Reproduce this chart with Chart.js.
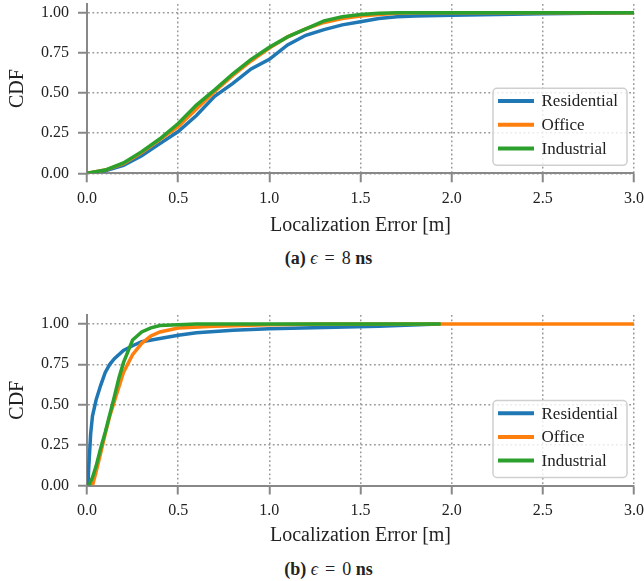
<!DOCTYPE html>
<html>
<head>
<meta charset="utf-8">
<script src="https://cdn.jsdelivr.net/npm/chart.js@4.4.1/dist/chart.umd.min.js"></script>
<style>
  html, body { margin: 0; padding: 0; background: #fff; overflow: hidden; }
  body { width: 644px; height: 581px; position: relative; font-family: "Liberation Serif", "DejaVu Serif", serif; color: #222; }
  .box { position: absolute; left: 0; }
  .caption { position: absolute; left: 0; width: 657px; text-align: center; font-size: 18px; white-space: pre; }
  .eq { margin: 0 7px; }
</style>
</head>
<body>
<canvas id="chartA" class="box" style="top:0" width="660" height="245"></canvas>
<div class="caption" style="top:248px"><b>(a)</b> <i>ϵ</i><span class="eq">=</span>8 <b>ns</b></div>
<canvas id="chartB" class="box" style="top:310px" width="660" height="245"></canvas>
<div class="caption" style="top:559px"><b>(b)</b> <i>ϵ</i><span class="eq">=</span>0 <b>ns</b></div>

<script>
const seriesNames = ["Residential", "Office", "Industrial"];
const seriesColors = ["#1f77b4", "#ff7f0e", "#2ca02c"];
const xTicks = [0, 0.5, 1, 1.5, 2, 2.5, 3];
const yTicks = [0, 0.25, 0.5, 0.75, 1];

// (a) eps = 8 ns
const xTop = [0, 0.1, 0.2, 0.3, 0.4, 0.5, 0.6, 0.7, 0.8, 0.9, 1.0, 1.1, 1.2, 1.3, 1.4, 1.5, 1.6, 1.7, 1.8, 2.0, 2.5, 3.0];
const residentialTop = [0, 0.015, 0.05, 0.11, 0.185, 0.26, 0.36, 0.48, 0.56, 0.65, 0.71, 0.80, 0.86, 0.895, 0.925, 0.945, 0.965, 0.975, 0.98, 0.985, 0.995, 1.0];
const officeTop = [0, 0.02, 0.06, 0.13, 0.21, 0.29, 0.40, 0.51, 0.61, 0.70, 0.78, 0.85, 0.90, 0.94, 0.965, 0.98, 0.99, 0.997, 1, 1, 1, 1];
const industrialTop = [0, 0.02, 0.065, 0.135, 0.215, 0.31, 0.425, 0.52, 0.62, 0.71, 0.785, 0.85, 0.90, 0.95, 0.975, 0.99, 0.997, 1, 1, 1, 1, 1];

// (b) eps = 0 ns
const xResBottom = [0.005, 0.01, 0.02, 0.03, 0.05, 0.075, 0.1, 0.125, 0.15, 0.2, 0.25, 0.3, 0.4, 0.5, 0.6, 0.8, 1.0, 1.3, 1.6, 1.93];
const residentialBottom = [0, 0.12, 0.32, 0.43, 0.53, 0.62, 0.70, 0.75, 0.785, 0.836, 0.865, 0.89, 0.91, 0.93, 0.945, 0.96, 0.97, 0.977, 0.985, 1.0];
const xOffBottom = [0.03, 0.05, 0.075, 0.1, 0.125, 0.15, 0.175, 0.2, 0.25, 0.3, 0.35, 0.4, 0.5, 0.7, 1.0, 1.3, 3.0];
const officeBottom = [0, 0.085, 0.20, 0.32, 0.43, 0.52, 0.61, 0.70, 0.81, 0.88, 0.925, 0.95, 0.975, 0.985, 0.995, 1.0, 1.0];
const xIndBottom = [0.01, 0.03, 0.05, 0.075, 0.1, 0.125, 0.15, 0.175, 0.2, 0.25, 0.3, 0.35, 0.4, 0.5, 0.6, 1.94];
const industrialBottom = [0, 0.05, 0.12, 0.23, 0.33, 0.44, 0.55, 0.665, 0.76, 0.90, 0.95, 0.975, 0.99, 0.995, 1.0, 1.0];

const FONT = '"Liberation Serif", "DejaVu Serif", serif';
const INK = "#222";
const AXIS = "#888";

function pts(xs, ys) {
  return xs.map((x, i) => ({ x: x, y: ys[i] }));
}

function makeDatasets(list) {
  return list.map((d, i) => ({
    label: seriesNames[i],
    data: pts(d[0], d[1]),
    borderColor: seriesColors[i],
    backgroundColor: seriesColors[i],
    borderWidth: 3.5,
    pointRadius: 0,
    tension: 0,
    fill: false,
    order: 3 - i,
  }));
}

// legend box in the lower right corner of the plot
const legendBox = {
  id: "legendBox",
  afterDatasetsDraw(chart) {
    const { ctx, chartArea } = chart;
    const w = 134, h = 77;
    const x = chartArea.right - 7 - w;
    const y = chartArea.bottom - 8 - h;
    ctx.save();
    ctx.beginPath();
    ctx.roundRect(x, y, w, h, 4);
    ctx.fillStyle = "rgba(255,255,255,0.8)";
    ctx.fill();
    ctx.lineWidth = 1.5;
    ctx.strokeStyle = "#cfcfcf";
    ctx.stroke();
    ctx.font = "17px " + FONT;
    ctx.textBaseline = "middle";
    chart.data.datasets.forEach((ds, i) => {
      const ry = y + 12.7 + i * 23.7;
      ctx.strokeStyle = ds.borderColor;
      ctx.lineWidth = 4;
      ctx.beginPath();
      ctx.moveTo(x + 5, ry);
      ctx.lineTo(x + 41, ry);
      ctx.stroke();
      ctx.fillStyle = INK;
      ctx.fillText(ds.label, x + 48.5, ry + 1);
    });
    ctx.restore();
  },
};

function makeChart(id, datasets, areaTop, areaBottom) {
  const canvasH = 245;
  return new Chart(id, {
    type: "line",
    data: { datasets: datasets },
    plugins: [legendBox],
    options: {
      responsive: false,
      animation: false,
      events: [],
      layout: { padding: { top: areaTop, left: 0, right: 26, bottom: 0 } },
      plugins: { legend: { display: false }, tooltip: { enabled: false } },
      scales: {
        x: {
          type: "linear",
          min: 0,
          max: 3,
          afterBuildTicks: (s) => { s.ticks = xTicks.map((v) => ({ value: v })); },
          afterFit: (s) => { s.height = canvasH - areaBottom; s.paddingLeft = 0; s.paddingRight = 0; },
          ticks: { font: { family: FONT, size: 16 }, color: INK, padding: 7, maxRotation: 0, callback: (v) => v.toFixed(1) },
          grid: { color: "#999", lineWidth: 1.5, tickLength: 9, tickColor: AXIS, tickWidth: 2, tickBorderDash: [] },
          border: { display: true, color: AXIS, width: 2, dash: [1.8, 2.6] },
          title: { display: true, text: "Localization Error [m]", color: INK, font: { family: FONT, size: 20 }, padding: { top: 0, bottom: 7 } },
        },
        y: {
          min: 0,
          max: 1.055,
          afterBuildTicks: (s) => { s.ticks = yTicks.map((v) => ({ value: v })); },
          afterFit: (s) => { s.width = 87; s.paddingTop = 0; s.paddingBottom = 0; },
          ticks: { font: { family: FONT, size: 16 }, color: INK, padding: 9, callback: (v) => v.toFixed(2) },
          grid: { color: "#999", lineWidth: 1.5, tickLength: 9, tickColor: AXIS, tickWidth: 2, tickBorderDash: [] },
          border: { display: true, color: AXIS, width: 2, dash: [1.8, 2.6] },
          title: { display: true, text: "CDF", color: INK, font: { family: FONT, size: 20 }, padding: { top: 6, bottom: 0 } },
        },
      },
    },
  });
}

makeChart("chartA", makeDatasets([
  [xTop, residentialTop],
  [xTop, officeTop],
  [xTop, industrialTop],
]), 4, 173.3);

makeChart("chartB", makeDatasets([
  [xResBottom, residentialBottom],
  [xOffBottom, officeBottom],
  [xIndBottom, industrialBottom],
]), 5, 175.5);
</script>
</body>
</html>
